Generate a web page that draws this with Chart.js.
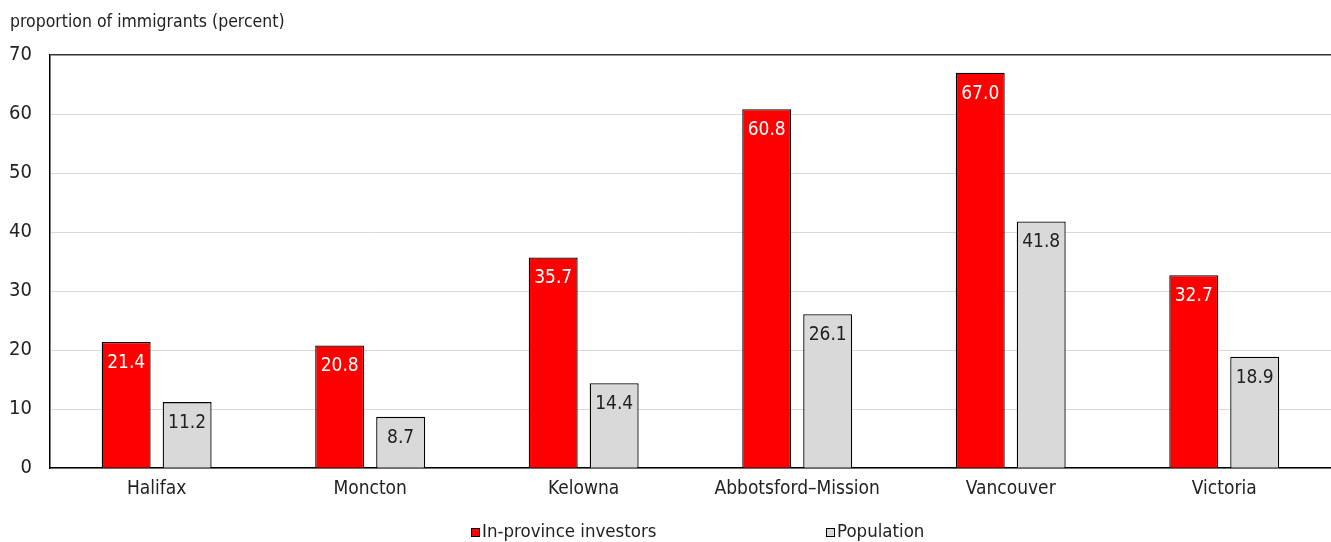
<!DOCTYPE html>
<html>
<head>
<meta charset="utf-8">
<script src="https://cdn.jsdelivr.net/npm/chart.js@4/dist/chart.umd.min.js"></script>
<style>
    html, body { margin: 0; padding: 0; background: #fff; }
    #wrap { width: 1331px; height: 542px; }
</style>
</head>
<body>
<div id="wrap"><canvas id="immigrantsChart" width="1331" height="542"></canvas></div>
<script>
const FONT = '"Liberation Sans Narrow", "DejaVu Sans Condensed", "Arial Narrow", sans-serif';

const cities = ['Halifax', 'Moncton', 'Kelowna', 'Abbotsford\u2013Mission', 'Vancouver', 'Victoria'];
const investorShare = [21.4, 20.8, 35.7, 60.8, 67.0, 32.7];
const populationShare = [11.2, 8.7, 14.4, 26.1, 41.8, 18.9];
const yTicks = [0, 10, 20, 30, 40, 50, 60, 70];

// value labels inside the top of each bar
const barLabels = {
    id: 'barLabels',
    afterDatasetsDraw(chart) {
        const ctx = chart.ctx;
        ctx.save();
        ctx.font = '19px ' + FONT;
        ctx.textAlign = 'center';
        ctx.textBaseline = 'middle';
        chart.data.datasets.forEach((ds, i) => {
            const meta = chart.getDatasetMeta(i);
            meta.data.forEach((bar, j) => {
                ctx.fillStyle = ds.labelColor;
                ctx.fillText(ds.data[j].toFixed(1), bar.x, bar.y + 21);
            });
        });
        ctx.restore();
    }
};

// title above the axis and legend under the chart
const extras = {
    id: 'extras',
    afterDraw(chart) {
        const ctx = chart.ctx;
        ctx.save();
        ctx.fillStyle = '#222';
        ctx.font = '17.5px ' + FONT;
        ctx.textAlign = 'left';
        ctx.textBaseline = 'middle';
        ctx.fillText('proportion of immigrants (percent)', 10, 22);

        const legendX = [471, 826];
        ctx.font = '18.5px ' + FONT;
        chart.data.datasets.forEach((ds, i) => {
            const x = legendX[i];
            const y = 532;
            ctx.fillStyle = ds.backgroundColor;
            ctx.fillRect(x, y - 4, 9, 9);
            ctx.strokeStyle = '#000';
            ctx.lineWidth = 1;
            ctx.strokeRect(x + 0.5, y - 3.5, 8, 8);
            ctx.fillStyle = '#222';
            ctx.fillText(ds.label, x + 11, y);
        });
        ctx.restore();
    }
};

const ctx = document.getElementById('immigrantsChart').getContext('2d');
new Chart(ctx, {
    type: 'bar',
    data: {
        labels: cities,
        datasets: [
            {
                label: 'In-province investors',
                data: investorShare,
                backgroundColor: '#ff0000',
                borderColor: '#000',
                borderWidth: 1.3,
                labelColor: '#fff',
                categoryPercentage: 0.571,
                barPercentage: 0.803
            },
            {
                label: 'Population',
                data: populationShare,
                backgroundColor: '#d9d9d9',
                borderColor: '#000',
                borderWidth: 1.3,
                labelColor: '#222',
                categoryPercentage: 0.571,
                barPercentage: 0.803
            }
        ]
    },
    options: {
        responsive: false,
        animation: false,
        layout: { padding: { left: -9, right: 0, top: 55, bottom: 41 } },
        plugins: {
            legend: { display: false },
            tooltip: { enabled: false }
        },
        scales: {
            x: {
                grid: { display: false },
                border: { color: '#000', width: 1.5 },
                ticks: { color: '#222', font: { family: FONT, size: 19 }, padding: 1 }
            },
            y: {
                min: 0,
                max: 70,
                afterBuildTicks: (axis) => { axis.ticks = yTicks.map(v => ({ value: v })); },
                grid: {
                    color: (c) => c.tick && c.tick.value === 70 ? '#333' : '#d9d9d9',
                    lineWidth: (c) => c.tick && c.tick.value === 70 ? 1.5 : 1,
                    drawTicks: false
                },
                border: { color: '#000', width: 1.5 },
                ticks: { color: '#222', font: { family: FONT, size: 20 }, padding: 18 }
            }
        }
    },
    plugins: [barLabels, extras]
});
</script>
</body>
</html>
